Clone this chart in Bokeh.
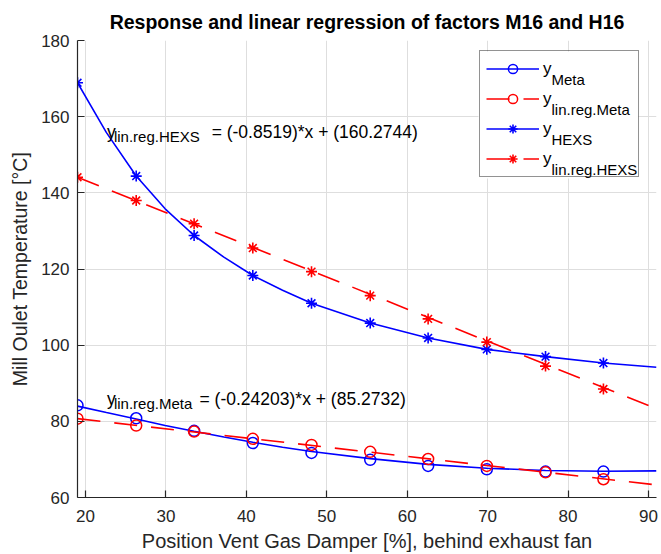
from bokeh.plotting import figure
from bokeh.models import Range1d, FixedTicker, Legend, LegendItem, Label, BoxAnnotation
from bokeh.core.properties import value
from bokeh.embed import file_html
from bokeh.resources import INLINE

FONT = "Liberation Sans"
AX = "#262626"

# ---- data ----
x_pos = [19.0, 26.3, 33.5, 40.8, 48.1, 55.4, 62.6, 69.9, 77.2, 84.4]
y_meta = [84.2, 80.8, 77.5, 74.3, 71.7, 69.9, 68.3, 67.4, 66.8, 66.8]
y_linreg_meta = [80.7, 78.9, 77.3, 75.4, 73.8, 72.0, 70.1, 68.3, 66.6, 64.8]
y_hexs = [168.9, 144.4, 128.8, 118.3, 111.0, 105.8, 101.9, 98.9, 97.0, 95.3]
y_linreg_hexs = [144.1, 138.0, 131.9, 125.5, 119.3, 113.0, 106.9, 100.8, 94.5, 88.5]

# fitted response curves
curve_x = [19.0, 22.6, 26.3, 29.9, 33.5, 37.2, 40.8, 44.5, 48.1, 55.4, 62.6, 69.9, 77.2, 84.4, 91.0]
curve_meta = [84.0, 82.3, 80.6, 78.9, 77.4, 75.9, 74.5, 73.2, 72.1, 70.2, 68.7, 67.7, 67.1, 66.9, 67.0]
curve_hexs = [168.9, 155.8, 144.4, 135.8, 128.8, 123.1, 118.3, 114.4, 111.0, 105.8, 101.9, 98.9, 97.0, 95.3, 94.2]

# regression lines (end points)
reg_x = [19.0, 91.0]
reg_meta = [80.7, 63.3]
reg_hexs = [144.1, 83.3]

x_ticks = [20, 30, 40, 50, 60, 70, 80, 90]
y_ticks = [60, 80, 100, 120, 140, 160, 180]

title_text = "Response and linear regression of factors M16 and H16"
xlabel = "Position Vent Gas Damper [%], behind exhaust fan"
ylabel = "Mill Oulet Temperature [°C]"
legend_subs = ["Meta", "lin.reg.Meta", "HEXS", "lin.reg.HEXS"]
eq_subs = ["lin.reg.HEXS", "lin.reg.Meta"]
eq_texts = ["= (-0.8519)*x + (160.2744)", "= (-0.24203)*x + (85.2732)"]
eq_x = [22.66, 22.66]
eq_y = [156.0, 85.9]
eq_dx = [104.7, 92.6]

p = figure(width=661, height=554, output_backend="svg", toolbar_location=None,
           x_range=Range1d(19, 91), y_range=Range1d(60, 180),
           min_border_left=77, min_border_right=5, min_border_top=40, min_border_bottom=56)
p.background_fill_color = "white"
p.border_fill_color = "white"
p.outline_line_color = None

p.title.text = title_text
p.title.align = "center"
p.title.vertical_align = "middle"
p.title.text_font = FONT
p.title.text_font_size = "19.5px"
p.title.text_font_style = "bold"
p.title.text_color = "black"
p.title.standoff = 14

for ax in (p.xaxis[0], p.yaxis[0]):
    ax.axis_line_color = AX
    ax.axis_line_width = 1.2
    ax.major_tick_line_color = AX
    ax.major_tick_line_width = 1.2
    ax.major_tick_in = 7
    ax.major_tick_out = 0
    ax.minor_tick_in = 0
    ax.minor_tick_out = 0
    ax.major_label_text_font = FONT
    ax.major_label_text_font_size = "17px"
    ax.major_label_text_color = AX
    ax.axis_label_text_font = FONT
    ax.axis_label_text_font_style = "normal"
    ax.axis_label_text_color = AX

p.xaxis.axis_label_text_font_size = "20px"
p.yaxis.axis_label_text_font_size = "19.5px"
p.xaxis.ticker = FixedTicker(ticks=x_ticks)
p.yaxis.ticker = FixedTicker(ticks=y_ticks)
p.xaxis.axis_label = xlabel
p.yaxis.axis_label = ylabel
p.xaxis.major_label_standoff = 12
p.yaxis.major_label_standoff = 8
p.xaxis.axis_label_standoff = 5
p.yaxis.axis_label_standoff = 7

p.grid.grid_line_color = "#dedede"
p.grid.grid_line_width = 1

BLUE = "#0000ff"
RED = "#ff0000"
DASH = "23 14"

l1 = p.line(curve_x, curve_meta, line_color=BLUE, line_width=1.6)
m1 = p.scatter(x_pos, y_meta, marker="circle", size=11, fill_color=None,
               line_color=BLUE, line_width=1.5)
l2 = p.line(reg_x, reg_meta, line_color=RED, line_width=1.6, line_dash=DASH)
m2 = p.scatter(x_pos, y_linreg_meta, marker="circle", size=11, fill_color=None,
               line_color=RED, line_width=1.5)
l3 = p.line(curve_x, curve_hexs, line_color=BLUE, line_width=1.6)
m3 = p.scatter(x_pos, y_hexs, marker="asterisk", size=11, line_color=BLUE, line_width=1.6)
l4 = p.line(reg_x, reg_hexs, line_color=RED, line_width=1.6, line_dash=DASH)
m4 = p.scatter(x_pos, y_linreg_hexs, marker="asterisk", size=11, line_color=RED, line_width=1.6)

# equation annotations (text glyphs in data space)
eq_src = dict(x=eq_x, y=eq_y, sub=eq_subs, eq=eq_texts, dx=eq_dx, ys=["y", "y"])
p.text(x="x", y="y", text="ys", source=eq_src, text_font=value(FONT),
       text_font_size="17.5px", text_color="black", text_baseline="alphabetic")
p.text(x="x", y="y", text="sub", source=eq_src, x_offset=7, y_offset=5,
       text_font=value(FONT), text_font_size="15px", text_color="black",
       text_baseline="alphabetic")
p.text(x="x", y="y", text="eq", source=eq_src, x_offset="dx",
       text_font=value(FONT), text_font_size="17.5px", text_color="black",
       text_baseline="alphabetic")

# white background behind the (transparent) legend
p.add_layout(BoxAnnotation(left=401, right=561, top=446, bottom=319,
                           left_units="screen", right_units="screen",
                           top_units="screen", bottom_units="screen",
                           fill_color="white", fill_alpha=1, line_alpha=0))

legend = Legend(items=[LegendItem(label="y", renderers=[l1, m1]),
                       LegendItem(label="y", renderers=[l2, m2]),
                       LegendItem(label="y", renderers=[l3, m3]),
                       LegendItem(label="y", renderers=[l4, m4])],
                location=(402, 320))
legend.glyph_width = 53
legend.glyph_height = 23
legend.label_height = 23
legend.label_width = 89
legend.label_standoff = 4
legend.spacing = 7
legend.padding = 6
legend.margin = 0
legend.border_line_color = AX
legend.border_line_width = 1
legend.background_fill_alpha = 0
legend.label_text_font = FONT
legend.label_text_font_size = "17px"
legend.label_text_color = "black"
p.add_layout(legend, "center")

# subscripts of the legend labels (screen units, relative to the frame)
for i, sub in enumerate(legend_subs):
    p.add_layout(Label(x=474, y=418 - 30 * i, x_units="screen", y_units="screen",
                       text=sub, text_font=FONT, text_font_size="15px", level="overlay",
                       text_color="black", text_baseline="alphabetic"))

open("out.html", "w").write(file_html(p, INLINE))
